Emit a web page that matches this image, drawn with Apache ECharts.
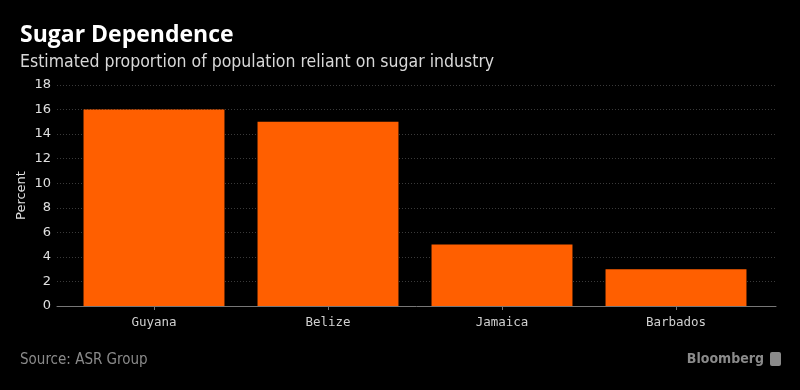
<!DOCTYPE html>
<html><head><meta charset="utf-8">
<script src="https://cdn.jsdelivr.net/npm/echarts@6/dist/echarts.min.js"></script>
<style>html,body{margin:0;padding:0;background:#000;}#c{width:800px;height:390px;}</style>
</head><body><div id="c"></div>
<script>
const categories = ["Guyana", "Belize", "Jamaica", "Barbados"];
const values = [16, 15, 5, 3];
const yTicks = { min: 0, max: 18, interval: 2 };

const chart = echarts.init(document.getElementById('c'), null, { renderer: 'canvas' });
chart.setOption({
  backgroundColor: '#000',
  animation: false,
  title: [
    { text: 'Sugar Dependence', left: 20, top: 24, padding: 0,
      textStyle: { color: '#fff', fontSize: 23, fontWeight: 'bold', fontFamily: 'Open Sans' } },
    { text: 'Estimated proportion of population reliant on sugar industry', left: 20, top: 53, padding: 0,
      textStyle: { color: '#d8d8d8', fontSize: 17.5, fontWeight: 'normal', fontFamily: 'DejaVu Sans Condensed' } },
    { text: 'Source: ASR Group', left: 20, top: 353, padding: 0,
      textStyle: { color: '#8a8a8a', fontSize: 15, fontWeight: 'normal', fontFamily: 'DejaVu Sans Condensed' } },
    { text: 'Bloomberg', right: 36, top: 352, padding: 0,
      textStyle: { color: '#8a8a8a', fontSize: 14, fontWeight: 'bold', fontFamily: 'DejaVu Sans Condensed' } }
  ],
  graphic: [
    { type: 'rect', right: 19, top: 352, shape: { width: 11, height: 14, r: 2 }, style: { fill: '#8a8a8a' } }
  ],
  grid: [
    { left: 57, right: 24, top: 85, bottom: 84 },
    { left: 67, right: 37, top: 85, bottom: 84 }
  ],
  xAxis: [
    { type: 'value', gridIndex: 0, min: 0, max: 1,
      axisLine: { show: true, onZero: false, lineStyle: { color: '#777', width: 1 } },
      axisTick: { show: false }, axisLabel: { show: false }, splitLine: { show: false } },
    { type: 'category', gridIndex: 1, data: categories,
      axisLine: { show: false },
      axisTick: { show: true, alignWithLabel: true, length: 4, lineStyle: { color: '#777' } },
      axisLabel: { color: '#d0d0d0', fontSize: 12.5, fontFamily: 'DejaVu Sans Mono', margin: 10 } }
  ],
  yAxis: [
    { type: 'value', gridIndex: 0, min: yTicks.min, max: yTicks.max, interval: yTicks.interval,
      name: 'Percent', nameLocation: 'middle', nameGap: 29, nameRotate: 90, nameMoveOverlap: false,
      nameTextStyle: { color: '#e0e0e0', fontSize: 13, fontFamily: 'DejaVu Sans' },
      axisLine: { show: false }, axisTick: { show: false },
      axisLabel: { color: '#e0e0e0', fontSize: 13, fontFamily: 'DejaVu Sans', margin: 6 },
      splitLine: { show: true, lineStyle: { color: '#3a3a3a', type: [1, 2], width: 1 } } },
    { type: 'value', gridIndex: 1, min: yTicks.min, max: yTicks.max, interval: yTicks.interval,
      show: false, splitLine: { show: false } }
  ],
  series: [{
    type: 'bar', xAxisIndex: 1, yAxisIndex: 1, data: values, barCategoryGap: '19%',
    itemStyle: { color: '#ff5f00' }
  }]
});
</script></body></html>
